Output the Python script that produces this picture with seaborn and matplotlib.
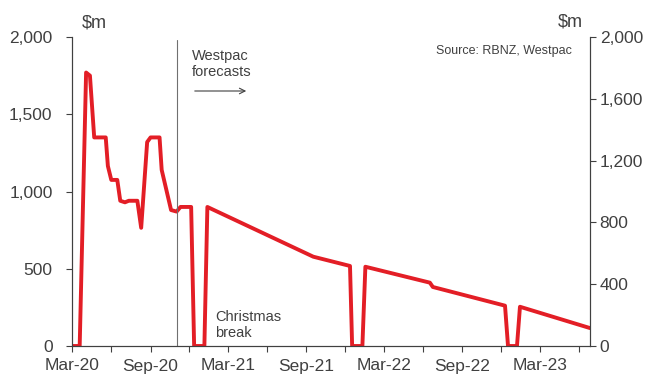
import pandas as pd
import matplotlib
matplotlib.use("Agg")
import matplotlib.pyplot as plt
import matplotlib.dates as mdates
from matplotlib.ticker import FuncFormatter, MultipleLocator
import seaborn as sns

# Weekly bond purchases ($m)
dates = ["2020-03-01", "2020-03-19", "2020-04-03", "2020-04-12", "2020-04-22",
         "2020-05-19", "2020-05-24", "2020-06-01", "2020-06-15", "2020-06-22",
         "2020-07-03", "2020-07-12", "2020-08-01", "2020-08-10", "2020-08-24",
         "2020-09-01", "2020-09-22", "2020-09-27", "2020-10-19", "2020-11-01",
         "2020-11-10", "2020-12-05", "2020-12-12", "2021-01-05", "2021-01-12",
         "2021-09-17", "2021-12-12", "2021-12-17", "2022-01-10", "2022-01-17",
         "2022-06-17", "2022-06-24", "2022-12-10", "2022-12-17", "2023-01-07",
         "2023-01-14", "2023-06-27"]
purchases = [0, 0, 1770, 1750, 1350,
             1350, 1165, 1075, 1075, 940,
             930, 940, 940, 765, 1320,
             1350, 1350, 1140, 880, 870,
             900, 900, 0, 0, 900,
             578, 518, 0, 0, 513,
             410, 382, 261, 0, 0,
             254, 116]

forecast_start = "2020-11-02"

df = pd.DataFrame({"date": pd.to_datetime(dates), "value": purchases})

sns.set_style("ticks")
plt.rcParams["font.family"] = ["Liberation Sans", "DejaVu Sans"]
grey = "#404040"

fig = plt.figure(figsize=(6.54, 3.76), dpi=100)
ax = fig.add_axes([72/654, 1 - 346/376, (590 - 72)/654, (346 - 37)/376])

sns.lineplot(data=df, x="date", y="value", ax=ax, color="#E31E26", linewidth=2.8)
ax.axvline(pd.Timestamp(forecast_start), ymax=0.99, color="#707070", linewidth=0.8)

ax.set_xlim(pd.Timestamp("2020-03-01"), pd.Timestamp("2023-06-27"))
ax.set_ylim(0, 2000)
ax.set_xlabel("")
ax.set_ylabel("")

ax.xaxis.set_major_locator(mdates.MonthLocator(bymonth=[3, 9]))
ax.xaxis.set_minor_locator(mdates.MonthLocator(bymonth=[6, 12]))
ax.xaxis.set_major_formatter(mdates.DateFormatter("%b-%y"))
ax.yaxis.set_major_locator(MultipleLocator(500))
ax.yaxis.set_major_formatter(FuncFormatter(lambda v, p: f"{v:,.0f}"))

ax2 = ax.twinx()
ax2.set_ylim(0, 2000)
ax2.yaxis.set_major_locator(MultipleLocator(400))
ax2.yaxis.set_major_formatter(FuncFormatter(lambda v, p: f"{v:,.0f}"))

for a in (ax, ax2):
    a.spines["top"].set_visible(False)
    for s in a.spines.values():
        s.set_color(grey)
        s.set_linewidth(0.8)
    a.tick_params(which="both", colors=grey, labelcolor=grey, labelsize=12.5,
                  length=4, width=0.8, pad=3)
ax.tick_params(axis="y", pad=10)
ax.tick_params(axis="x", pad=5)

fig.text(94/654, 1 - 23/376, "$m", ha="center", va="center", fontsize=13, color=grey)
fig.text(570/654, 1 - 22/376, "$m", ha="center", va="center", fontsize=13, color=grey)
fig.text(572/654, 1 - 51/376, "Source: RBNZ, Westpac", ha="right", va="center",
         fontsize=9, color=grey)
fig.text(192/654, 1 - 64/376, "Westpac\nforecasts", ha="left", va="center",
         fontsize=10.5, color=grey, linespacing=1.1)
fig.text(215/654, 1 - 325/376, "Christmas\nbreak", ha="left", va="center",
         fontsize=10.5, color=grey, linespacing=1.1)
ax.annotate("", xy=(249/654, 1 - 91/376), xytext=(192/654, 1 - 91/376),
            xycoords="figure fraction",
            arrowprops=dict(arrowstyle="->", color=grey, lw=0.8))

fig.savefig("out.png", dpi=100)
